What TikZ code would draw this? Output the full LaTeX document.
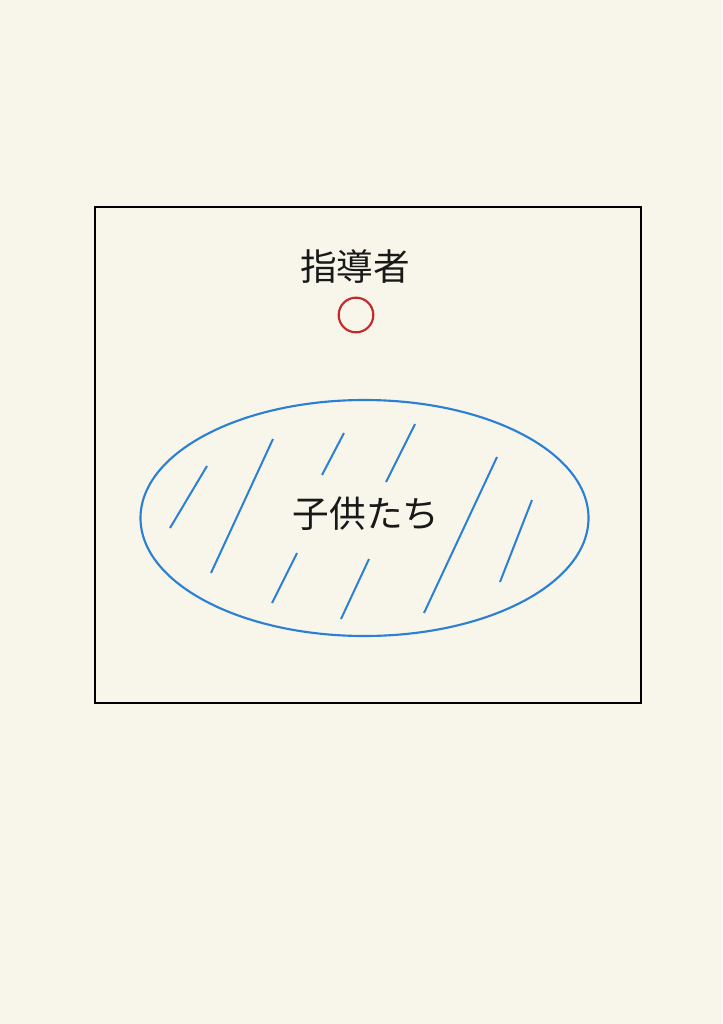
\documentclass[tikz,border=0pt]{standalone}
\usepackage{fontspec}
\newfontfamily\jpfont{Noto Sans CJK JP}
\usetikzlibrary{shapes.geometric,positioning}
\definecolor{paper}{HTML}{F8F6EA}
\definecolor{leadred}{HTML}{C62828}
\definecolor{kidblue}{HTML}{2B80D6}
\begin{document}
\begin{tikzpicture}[x=0.75pt,y=-0.75pt,
			label/.style={font=\jpfont\fontsize{27.5}{27.5}\selectfont, text=black!90, inner sep=0pt},
			leader/.style={circle, draw=leadred, line width=1.6pt, minimum size=26pt, inner sep=0pt},
			group/.style={ellipse, draw=kidblue, line width=1.6pt, minimum width=336pt, minimum height=177pt, inner sep=0pt},
			hatch/.style={draw=kidblue, line width=1.5pt}
		]
		\fill[paper] (0,0) rectangle (722,1024);
		% play area
		\draw[line width=1.5pt] (95,207) rectangle (641,703);

		% leader
		\node[label] (lead) at (355,267) {指導者};
		\node[leader] (dot) at (356,315) {};

		% children
		\node[group] (kids) at (364.5,518) {};
		\node[label] (kidtext) at (366,514) {子供たち};
		\foreach \ax/\ay/\bx/\by in {170/528/207/466, 211/573/273/439, 322/475/344/433, 386/482/415/424,
			272/603/297/553, 341/619/369/559, 424/613/497/457, 500/582/532/500}
			\draw[hatch] (\ax,\ay) -- (\bx,\by);
	\end{tikzpicture}
\end{document}
